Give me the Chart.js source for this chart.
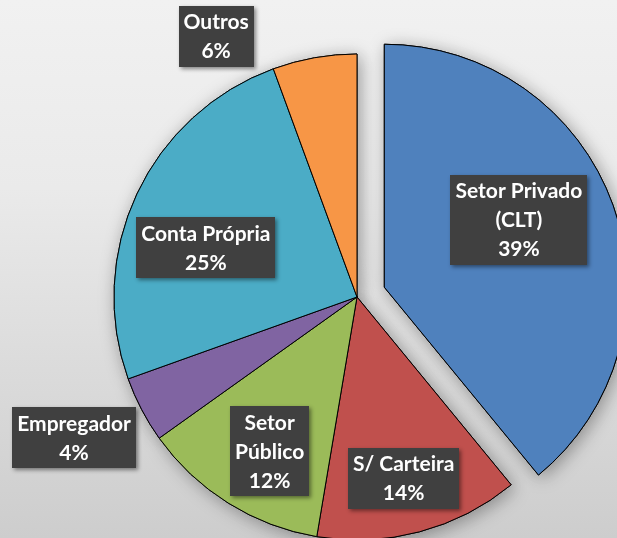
<!DOCTYPE html>
<html>
<head>
<meta charset="utf-8">
<script src="https://cdn.jsdelivr.net/npm/chart.js@4.4.0/dist/chart.umd.min.js"></script>
<style>
	html, body { margin: 0; padding: 0; overflow: hidden; width: 617px; height: 538px; }
	body { background: linear-gradient(#f1f1f1 0%, #eaeaea 35%, #cdcdcd 100%); }
	#chart { position: absolute; left: 0; top: 0; display: block; }
</style>
</head>
<body>
<canvas id="chart" width="714" height="594"></canvas>
<script>
/* Ocupação - distribuição por posição */
const categories = [['Setor Privado', '(CLT)'], ['S/ Carteira'], ['Setor', 'Público'], ['Empregador'], ['Conta Própria'], ['Outros']];
const shares = [39.1, 13.6, 12.5, 4.4, 24.9, 5.6];
const share_labels = ['39%', '14%', '12%', '4%', '25%', '6%'];
const colors = ['#4f81bd', '#c0504d', '#9bbb59', '#8064a2', '#4bacc6', '#f79646'];
const explode = [29, 0, 0, 0, 0, 0];
// label box placement: [distance from slice vertex as fraction of radius, angle shift in degrees]
const label_place = [[0.62, -7], [0.77, 0.5], [0.73, -2.5], [1.30, 1.2], [0.654, -7.1], [1.22, -18.3]];

function slice_vertex(arc, i) {
	let mid = (arc.startAngle + arc.endAngle) / 2;
	return { mid: mid, x: arc.x + Math.cos(mid) * explode[i], y: arc.y + Math.sin(mid) * explode[i] };
}

// draws slices (with shadow + exploded slice) through the arc elements themselves
let exploded_pie = {
	id: 'explodedPie',
	beforeDatasetsDraw(chart) {
		let ctx = chart.ctx;
		let arcs = chart.getDatasetMeta(0).data;
		[true, false].forEach(shadow => {
			arcs.forEach((arc, i) => {
				let v = slice_vertex(arc, i);
				ctx.save();
				ctx.translate(v.x - arc.x, v.y - arc.y);
				if (shadow) {
					ctx.shadowColor = 'rgba(0,0,0,0.35)';
					ctx.shadowBlur = 18;
					ctx.shadowOffsetX = 3;
					ctx.shadowOffsetY = 3;
				}
				arc.draw(ctx);
				ctx.restore();
			});
		});
		return false;
	}
};

let box_labels = {
	id: 'boxLabels',
	afterDraw(chart) {
		let ctx = chart.ctx;
		let meta = chart.getDatasetMeta(0);
		ctx.save();
		ctx.font = 'bold 21px Lato';
		meta.data.forEach((arc, i) => {
			let v = slice_vertex(arc, i);
			let a = v.mid + label_place[i][1] * Math.PI / 180;
			let d = label_place[i][0] * arc.outerRadius;
			let cx = v.x + Math.cos(a) * d, cy = v.y + Math.sin(a) * d;
			let lines = categories[i].concat(share_labels[i]);
			let lh = 29;
			let w = Math.round(Math.max(...lines.map(t => ctx.measureText(t).width)) + 10);
			let h = lines.length * lh + 3;
			ctx.shadowColor = 'rgba(0,0,0,0.45)';
			ctx.shadowBlur = 4;
			ctx.shadowOffsetX = 2;
			ctx.shadowOffsetY = 2;
			ctx.fillStyle = '#404040';
			ctx.fillRect(Math.round(cx - w / 2), Math.round(cy - h / 2), w, h);
			ctx.shadowColor = 'transparent';
			ctx.fillStyle = '#ffffff';
			ctx.textAlign = 'center';
			ctx.textBaseline = 'middle';
			lines.forEach((t, k) => ctx.fillText(t, cx, cy + 1 - (lines.length - 1) * lh / 2 + k * lh));
		});
		ctx.restore();
	}
};

new Chart(document.getElementById('chart'), {
	type: 'pie',
	data: {
		labels: categories.map(c => c.join(' ')),
		datasets: [{
			data: shares,
			backgroundColor: colors,
			borderColor: '#000000',
			borderWidth: 1,
			hoverOffset: 0
		}]
	},
	options: {
		responsive: false,
		animation: false,
		events: [],
		radius: 243,
		layout: { padding: 0 },
		plugins: {
			legend: { display: false },
			tooltip: { enabled: false }
		}
	},
	plugins: [exploded_pie, box_labels]
});
</script>
</body>
</html>
